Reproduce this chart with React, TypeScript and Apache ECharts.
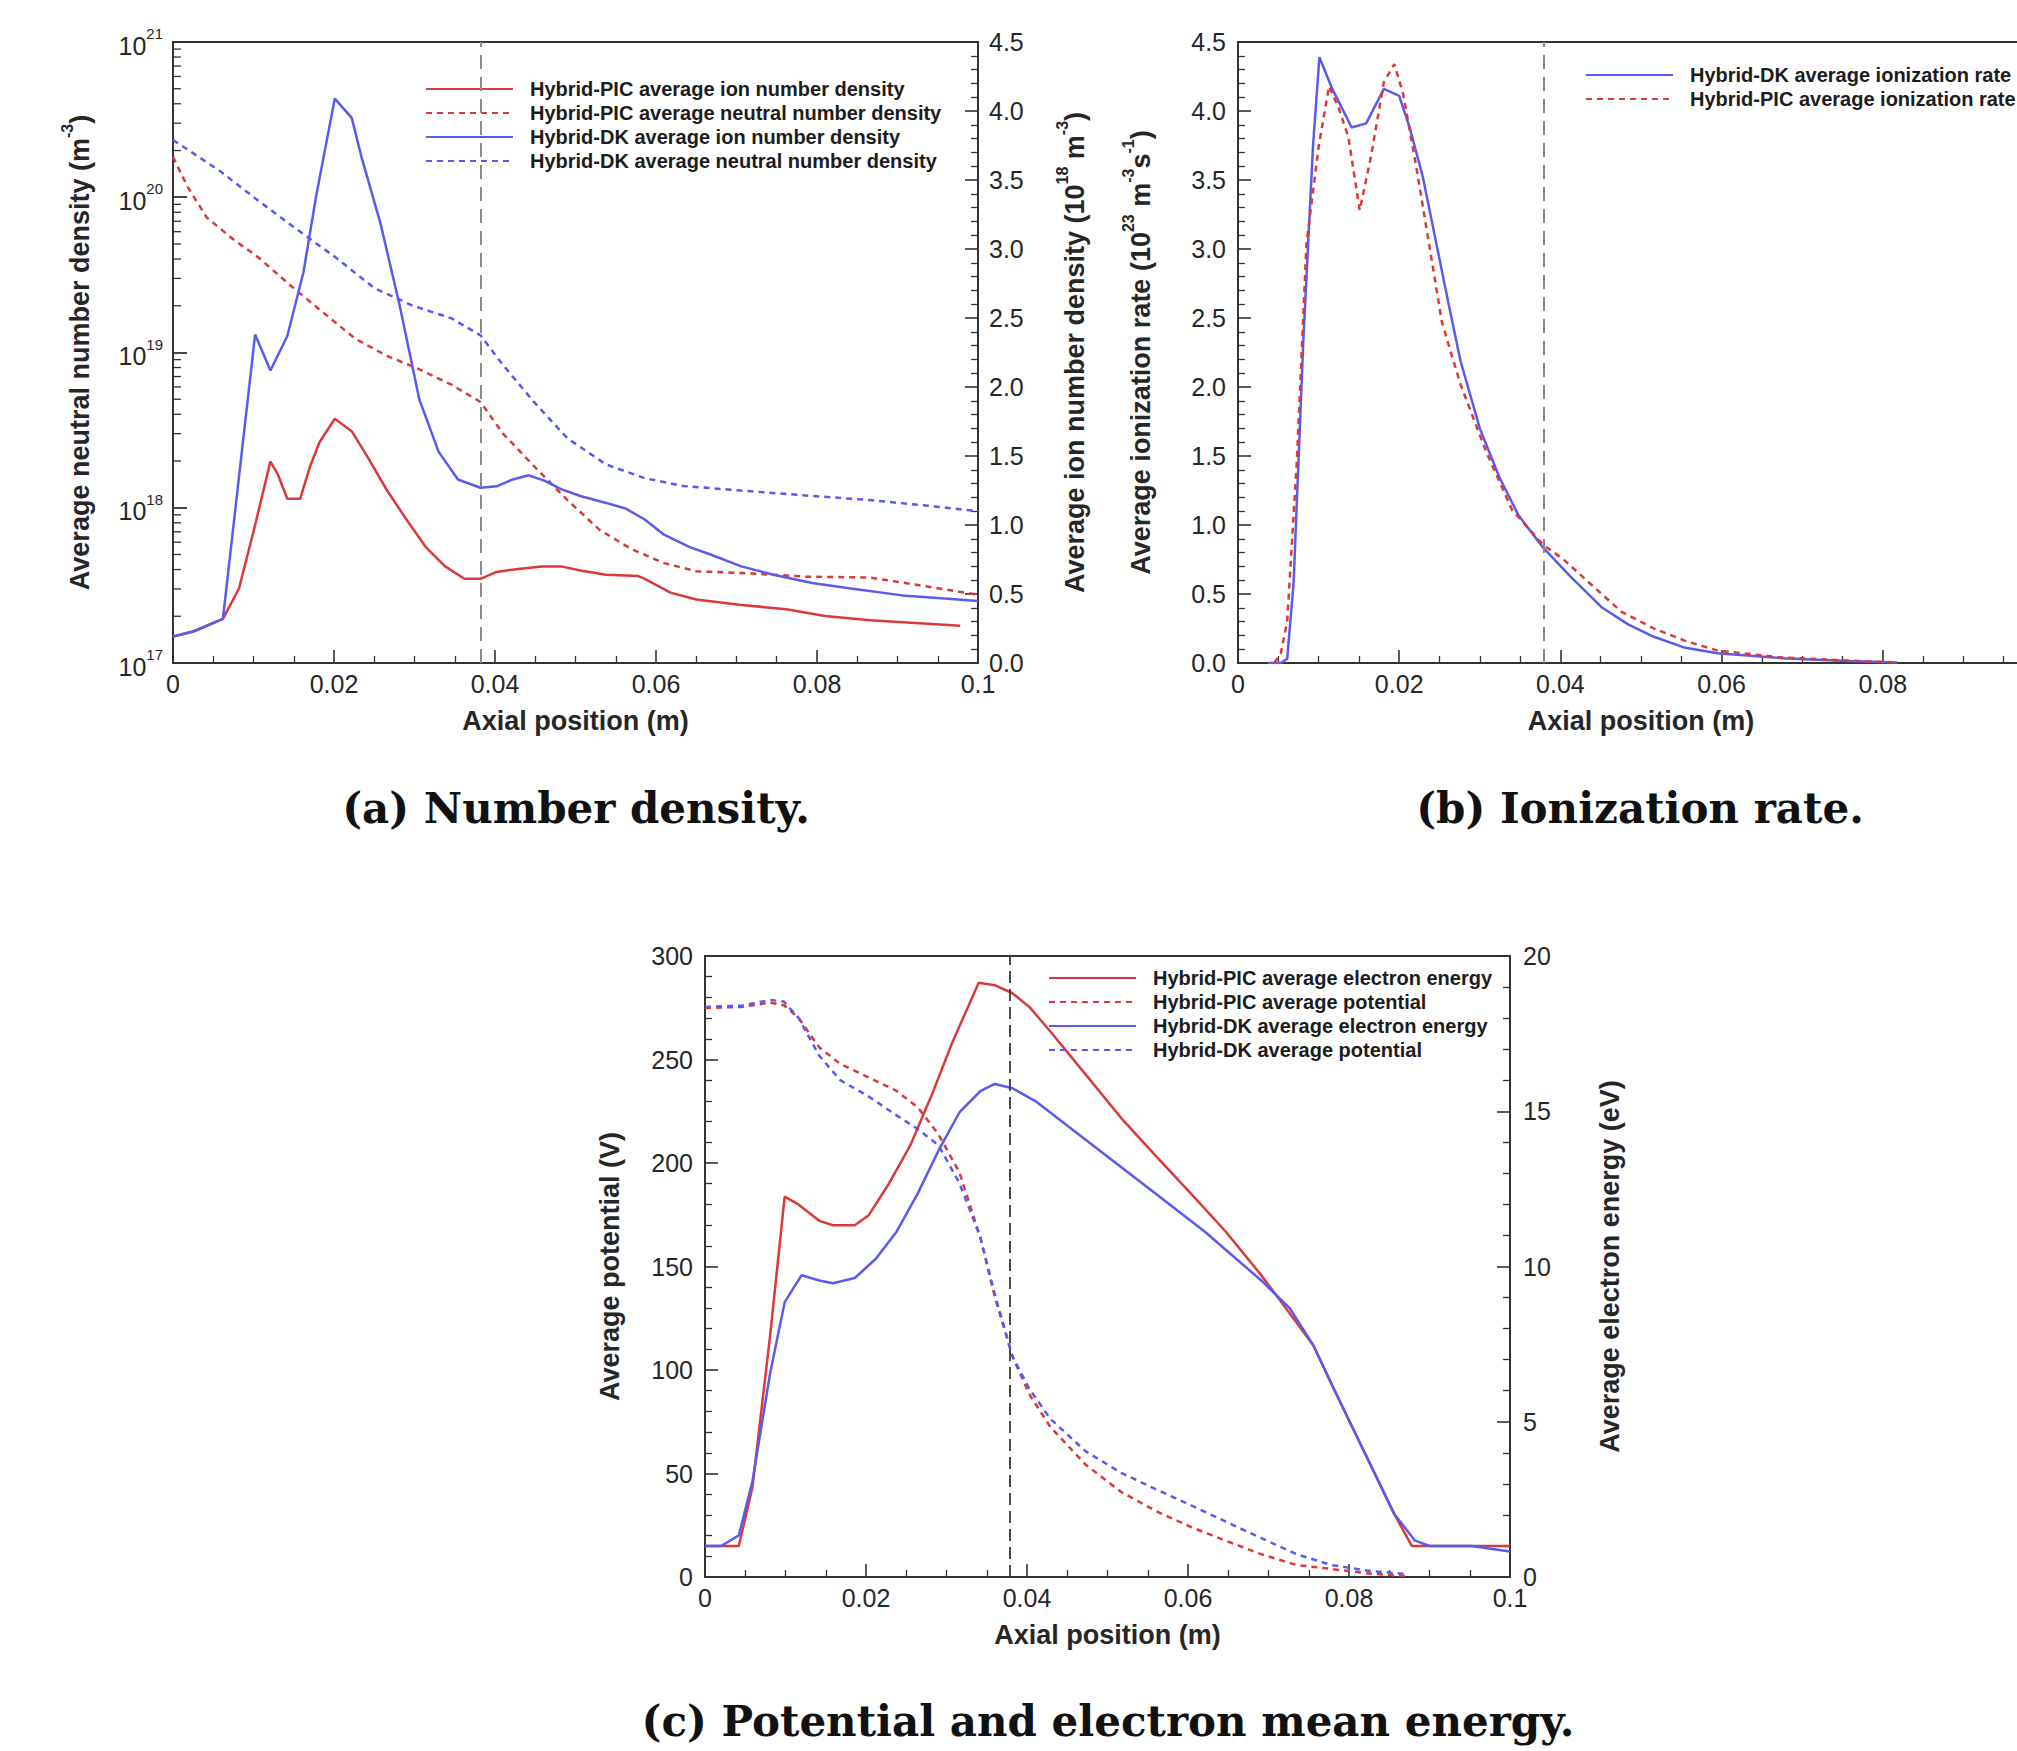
import React, { useEffect, useRef } from "react";
import * as echarts from "echarts";

// ---------- colours / fonts ----------
const RED = "#d83a3c";
const BLUE = "#5a5aee";
const AX = "#333333";
const TXT = "#262626";
const FONT = "'Liberation Sans', Arial, Helvetica, sans-serif";
const SERIF = "'DejaVu Serif', 'Liberation Serif', serif";

// ---------- (a) number density ----------
const aPicIonX = [0, 0.0026, 0.0062, 0.0082, 0.0102, 0.0121, 0.013, 0.0142, 0.0158, 0.017, 0.0182, 0.0201, 0.0222, 0.0242, 0.0266, 0.029, 0.0314, 0.0338, 0.0362, 0.0382, 0.0402, 0.0426, 0.0458, 0.0482, 0.0506, 0.0538, 0.0578, 0.0586, 0.0618, 0.065, 0.0706, 0.0762, 0.081, 0.0866, 0.0922, 0.0978];
const aPicIon = [0.19, 0.23, 0.32, 0.54, 1.0, 1.46, 1.37, 1.19, 1.19, 1.42, 1.6, 1.77, 1.68, 1.49, 1.25, 1.04, 0.84, 0.7, 0.61, 0.61, 0.66, 0.68, 0.7, 0.7, 0.67, 0.64, 0.63, 0.61, 0.51, 0.46, 0.42, 0.39, 0.34, 0.31, 0.29, 0.27];

const aPicNeuX = [0, 0.0018, 0.0042, 0.0074, 0.0106, 0.0146, 0.0186, 0.0226, 0.0266, 0.0306, 0.0346, 0.0382, 0.041, 0.045, 0.049, 0.053, 0.057, 0.061, 0.065, 0.0706, 0.0786, 0.0866, 0.0922, 0.1];
const aPicNeu = [1.82e20, 1.17e20, 7.4e19, 5.4e19, 4.1e19, 2.7e19, 1.82e19, 1.23e19, 9.5e18, 7.8e18, 6.2e18, 4.8e18, 3.0e18, 1.82e18, 1.12e18, 7.2e17, 5.4e17, 4.4e17, 3.9e17, 3.8e17, 3.6e17, 3.55e17, 3.2e17, 2.75e17];

const aDkIonX = [0, 0.0026, 0.0062, 0.0102, 0.0121, 0.0142, 0.0162, 0.0178, 0.0201, 0.0222, 0.0234, 0.0258, 0.0282, 0.0306, 0.033, 0.0354, 0.0382, 0.0402, 0.0422, 0.0442, 0.0462, 0.0482, 0.0506, 0.0538, 0.0562, 0.0586, 0.061, 0.0642, 0.0666, 0.0706, 0.0746, 0.0794, 0.0842, 0.0906, 0.0954, 0.1];
const aDkIon = [0.193, 0.23, 0.32, 2.38, 2.12, 2.37, 2.83, 3.39, 4.09, 3.95, 3.67, 3.18, 2.58, 1.91, 1.53, 1.33, 1.27, 1.28, 1.33, 1.36, 1.32, 1.26, 1.21, 1.16, 1.12, 1.04, 0.93, 0.84, 0.79, 0.7, 0.64, 0.58, 0.54, 0.49, 0.47, 0.45];

const aDkNeuX = [0, 0.0058, 0.0106, 0.0154, 0.0202, 0.025, 0.0298, 0.0346, 0.0382, 0.041, 0.045, 0.049, 0.0538, 0.0586, 0.0634, 0.0706, 0.0786, 0.0866, 0.0946, 0.1];
const aDkNeu = [2.34e20, 1.48e20, 9.5e19, 6.2e19, 4.1e19, 2.6e19, 2.0e19, 1.66e19, 1.29e19, 8.3e18, 4.7e18, 2.8e18, 1.9e18, 1.55e18, 1.38e18, 1.29e18, 1.2e18, 1.12e18, 1.02e18, 9.5e17];

const logDecades = [1e17, 1e18, 1e19, 1e20];
const logMultipliers = [2, 3, 4, 5, 6, 7, 8, 9];

// ---------- (b) ionization rate ----------
const bDkX = [0.0037, 0.0053, 0.0061, 0.0069, 0.0081, 0.0093, 0.0101, 0.0117, 0.0141, 0.0159, 0.0181, 0.02, 0.0213, 0.0229, 0.0245, 0.0261, 0.0276, 0.03, 0.0324, 0.0348, 0.0378, 0.0412, 0.0452, 0.0484, 0.0516, 0.0555, 0.0595, 0.0675, 0.0755, 0.0818];
const bDk = [0, 0, 0.03, 0.58, 2.33, 3.74, 4.39, 4.16, 3.88, 3.91, 4.16, 4.11, 3.88, 3.53, 3.07, 2.61, 2.19, 1.7, 1.35, 1.07, 0.84, 0.63, 0.4, 0.28, 0.19, 0.11, 0.07, 0.035, 0.014, 0.004];

const bPicX = [0.0045, 0.0053, 0.0061, 0.0073, 0.0085, 0.01, 0.0113, 0.0125, 0.0137, 0.0151, 0.0165, 0.0181, 0.0194, 0.0205, 0.0221, 0.0237, 0.0253, 0.0276, 0.0308, 0.034, 0.0378, 0.0404, 0.0436, 0.0476, 0.0516, 0.0555, 0.0595, 0.0675, 0.0755, 0.0818];
const bPic = [0, 0.07, 0.3, 1.46, 3.04, 3.74, 4.18, 4.02, 3.81, 3.28, 3.67, 4.21, 4.34, 4.12, 3.6, 3.04, 2.47, 2.02, 1.53, 1.11, 0.86, 0.75, 0.58, 0.37, 0.25, 0.16, 0.09, 0.04, 0.018, 0.004];

// ---------- (c) potential and electron energy ----------
const cPicEnX = [0, 0.0042, 0.0059, 0.0081, 0.0099, 0.0116, 0.0142, 0.0159, 0.0186, 0.0203, 0.0229, 0.0255, 0.0281, 0.0307, 0.034, 0.036, 0.0382, 0.0403, 0.0429, 0.0473, 0.0517, 0.056, 0.0604, 0.0647, 0.0691, 0.0726, 0.0756, 0.0778, 0.0804, 0.083, 0.0856, 0.0878, 0.09, 0.1];
const cPicEn = [1.0, 1.0, 2.9, 7.8, 12.25, 12.0, 11.47, 11.33, 11.33, 11.64, 12.69, 13.9, 15.48, 17.2, 19.14, 19.06, 18.8, 18.36, 17.57, 16.18, 14.78, 13.56, 12.34, 11.12, 9.72, 8.5, 7.45, 6.23, 4.83, 3.44, 2.04, 1.0, 1.0, 1.0];

const cDkEnX = [0, 0.002, 0.0042, 0.0059, 0.0081, 0.0099, 0.012, 0.0142, 0.0159, 0.0186, 0.0212, 0.0238, 0.0264, 0.029, 0.0316, 0.0342, 0.036, 0.0382, 0.0412, 0.0447, 0.0499, 0.056, 0.0621, 0.0691, 0.0726, 0.0756, 0.0778, 0.0804, 0.083, 0.0856, 0.0882, 0.09, 0.0952, 0.1];
const cDkEn = [1.0, 1.0, 1.34, 3.09, 6.58, 8.85, 9.72, 9.55, 9.46, 9.63, 10.24, 11.12, 12.34, 13.73, 14.96, 15.65, 15.88, 15.74, 15.3, 14.6, 13.56, 12.34, 11.12, 9.55, 8.67, 7.45, 6.23, 4.83, 3.44, 2.04, 1.17, 1.0, 1.0, 0.82];

const cPotX = [0, 0.0046, 0.0081, 0.0098, 0.0116, 0.0142, 0.0168, 0.0203, 0.0238, 0.0264, 0.029, 0.0316, 0.0342, 0.036, 0.0382, 0.0403, 0.0429, 0.0473, 0.0517, 0.056, 0.0604, 0.0647, 0.0691, 0.0735, 0.0778, 0.0822, 0.0874];
const cPicPot = [274.9, 275.4, 277.5, 276.2, 270.2, 255.8, 247.9, 241.4, 234.8, 227, 213.9, 195.5, 164.1, 135.3, 106.5, 88.2, 72.5, 54.2, 41.1, 31.9, 24.1, 17.5, 11, 5.8, 3.9, 1.8, 0.3];
const cDkPot = [275.4, 276, 278.8, 278, 270.2, 251.8, 240, 232.2, 223, 216.5, 208.6, 190.3, 164.1, 136.6, 106.5, 90.8, 76.4, 60.7, 50.3, 42.4, 34.6, 26.7, 18.8, 11, 5.8, 3.1, 1.3];

// reference (dashed) positions
const aRefX = 0.0382;
const bRefX = 0.0379;
const cRefX = 0.0379;

// ---------- names ----------
const N_A = [
  "Hybrid-PIC average ion number density",
  "Hybrid-PIC average neutral number density",
  "Hybrid-DK average ion number density",
  "Hybrid-DK average neutral number density",
];
const N_B = ["Hybrid-DK average ionization rate", "Hybrid-PIC average ionization rate"];
const N_C = [
  "Hybrid-PIC average electron energy",
  "Hybrid-PIC average potential",
  "Hybrid-DK average electron energy",
  "Hybrid-DK average potential",
];
const X_TICKS = { min: 0, max: 0.1, interval: 0.02 };

const zip = (xs: number[], ys: number[]) => xs.map((x, i) => [x, ys[i]]);

const DOT = [6, 5];

const nameRich = {
  t: { fontFamily: FONT, fontWeight: "bold", fontSize: 27, color: TXT, lineHeight: 34, verticalAlign: "bottom" },
  s: { fontFamily: FONT, fontWeight: "bold", fontSize: 16, color: TXT, lineHeight: 18, verticalAlign: "top" },
};

function axisBase(gridIndex: number, minorSplit: number) {
  return {
    gridIndex,
    axisLine: { show: true, onZero: false, lineStyle: { color: AX, width: 2 } },
    axisTick: { show: true, inside: true, length: 13, lineStyle: { color: AX, width: 1.6 } },
    minorTick: { show: minorSplit > 0, splitNumber: minorSplit || 5, length: 7, lineStyle: { color: AX, width: 1.3 } },
    splitLine: { show: false },
    minorSplitLine: { show: false },
    axisLabel: { color: TXT, fontFamily: FONT, fontSize: 25, margin: 10 },
  };
}

function xAxisFor(gridIndex: number, showMax = true) {
  const b = axisBase(gridIndex, 4);
  return {
    ...b,
    type: "value",
    ...X_TICKS,
    axisLabel: { ...b.axisLabel, margin: 8, showMaxLabel: showMax },
    name: "Axial position (m)",
    nameLocation: "middle",
    nameGap: 44,
    nameTextStyle: { fontFamily: FONT, fontWeight: "bold", fontSize: 27, color: TXT },
  };
}

function line(name: string, data: number[][], color: string, dotted: boolean, xi: number, yi: number, extra: any = {}) {
  return {
    type: "line",
    name,
    data,
    xAxisIndex: xi,
    yAxisIndex: yi,
    symbol: "none",
    showSymbol: false,
    smooth: false,
    clip: true,
    lineStyle: { color, width: 2.5, type: dotted ? DOT : "solid" },
    itemStyle: { color },
    ...extra,
  };
}

function vline(x: number, y0: number, y1: number, color: string, dash: number[], width: number) {
  return {
    markLine: {
      silent: true,
      precision: 6,
      symbol: ["none", "none"],
      label: { show: false },
      lineStyle: { color, type: dash, width },
      data: [[{ coord: [x, y0] }, { coord: [x, y1] }]],
    },
  };
}

const legendBase = {
  orient: "vertical",
  itemWidth: 87,
  itemHeight: 12,
  itemGap: 0,
  selectedMode: false,
  padding: 0,
  itemStyle: { opacity: 0, borderWidth: 0 },
  textStyle: { fontFamily: FONT, fontWeight: "bold", fontSize: 20, lineHeight: 24, color: "#1c1c1c", padding: [0, 0, 0, 12] },
};

const logMinor = logDecades.flatMap((d) => logMultipliers.map((m) => [0, m * d]));

const gridBase = { show: true, borderColor: AX, borderWidth: 2, backgroundColor: "transparent", outerBoundsMode: "none", containLabel: false };

const option: any = {
  animation: false,
  backgroundColor: "#ffffff",
  grid: [
    { ...gridBase, left: 173, top: 42, width: 805, height: 621 },
    { ...gridBase, left: 1238, top: 42, width: 806, height: 621 },
    { ...gridBase, left: 705, top: 956, width: 805, height: 621 },
  ],
  xAxis: [xAxisFor(0), xAxisFor(1, false), xAxisFor(2)],
  yAxis: [
    {
      ...axisBase(0, 0),
      type: "log",
      logBase: 10,
      min: 1e17,
      max: 1e21,
      splitNumber: 4,
      position: "left",
      axisTick: { show: true, inside: true, length: 14, lineStyle: { color: AX, width: 1.8 } },
      axisLabel: {
        margin: 10,
        formatter: (v: number) => `{b|10}{s|${Math.round(Math.log10(v))}}`,
        rich: {
          b: { fontFamily: FONT, fontSize: 25, color: TXT, lineHeight: 32, verticalAlign: "bottom" },
          s: { fontFamily: FONT, fontSize: 15, color: TXT, lineHeight: 16, verticalAlign: "top" },
        },
      },
      name: "{t|Average neutral number density (m}{s|-3}{t|)}",
      nameLocation: "middle",
      nameRotate: 90,
      nameGap: 80,
      nameTextStyle: { rich: nameRich },
    },
    {
      ...axisBase(0, 5),
      type: "value",
      min: 0,
      max: 4.5,
      interval: 0.5,
      position: "right",
      axisLabel: { color: TXT, fontFamily: FONT, fontSize: 25, margin: 11, formatter: (v: number) => v.toFixed(1) },
      name: "{t|Average ion number density (10}{s|18}{t| m}{s|-3}{t|)}",
      nameLocation: "middle",
      nameRotate: 90,
      nameGap: 76,
      nameTextStyle: { rich: nameRich },
    },
    {
      ...axisBase(1, 5),
      type: "value",
      min: 0,
      max: 4.5,
      interval: 0.5,
      position: "left",
      axisLabel: { color: TXT, fontFamily: FONT, fontSize: 25, margin: 12, formatter: (v: number) => v.toFixed(1) },
      name: "{t|Average ionization rate (10}{s|23}{t| m}{s|-3}{t|s}{s|-1}{t|)}",
      nameLocation: "middle",
      nameRotate: 90,
      nameGap: 84,
      nameTextStyle: { rich: nameRich },
    },
    {
      ...axisBase(2, 5),
      type: "value",
      min: 0,
      max: 300,
      interval: 50,
      position: "left",
      axisLabel: { color: TXT, fontFamily: FONT, fontSize: 25, margin: 12 },
      name: "Average potential (V)",
      nameLocation: "middle",
      nameRotate: 90,
      nameGap: 82,
      nameTextStyle: { fontFamily: FONT, fontWeight: "bold", fontSize: 27, color: TXT },
    },
    {
      ...axisBase(2, 5),
      type: "value",
      min: 0,
      max: 20,
      interval: 5,
      position: "right",
      axisLabel: { color: TXT, fontFamily: FONT, fontSize: 25, margin: 13 },
      name: "Average electron energy (eV)",
      nameLocation: "middle",
      nameRotate: 90,
      nameGap: 86,
      nameTextStyle: { fontFamily: FONT, fontWeight: "bold", fontSize: 27, color: TXT },
    },
  ],
  legend: [
    { ...legendBase, data: N_A, left: 425, top: 77 },
    { ...legendBase, data: N_B, left: 1585, top: 63 },
    { ...legendBase, data: N_C, left: 1048, top: 966 },
  ],
  series: [
    // (a)
    line(N_A[0], zip(aPicIonX, aPicIon), RED, false, 0, 1),
    line(N_A[1], zip(aPicNeuX, aPicNeu), RED, true, 0, 0),
    line(N_A[2], zip(aDkIonX, aDkIon), BLUE, false, 0, 1, vline(aRefX, 0, 4.5, "#8a8a8a", [14, 8], 2)),
    line(N_A[3], zip(aDkNeuX, aDkNeu), BLUE, true, 0, 0),
    {
      type: "custom",
      name: "log-minor-ticks",
      xAxisIndex: 0,
      yAxisIndex: 0,
      silent: true,
      clip: false,
      data: logMinor,
      renderItem: (_p: any, api: any) => {
        const p = api.coord([0, api.value(1)]);
        return {
          type: "line",
          shape: { x1: p[0], y1: p[1], x2: p[0] + 8, y2: p[1] },
          style: { stroke: AX, lineWidth: 1.3 },
        };
      },
    },
    // (b)
    line(N_B[0], zip(bDkX, bDk), BLUE, false, 1, 2, vline(bRefX, 0, 4.5, "#8a8a8a", [14, 8], 2)),
    line(N_B[1], zip(bPicX, bPic), RED, true, 1, 2),
    // (c)
    line(N_C[0], zip(cPicEnX, cPicEn), RED, false, 2, 4, vline(cRefX, 0, 20, "#3a3a3a", [12, 6], 1.8)),
    line(N_C[1], zip(cPotX, cPicPot), RED, true, 2, 3),
    line(N_C[2], zip(cDkEnX, cDkEn), BLUE, false, 2, 4),
    line(N_C[3], zip(cPotX, cDkPot), BLUE, true, 2, 3),
  ],
  graphic: [
    {
      type: "text",
      x: 576,
      y: 808,
      style: { text: "(a) Number density.", font: `bold 42px ${SERIF}`, fill: "#111", textAlign: "center", textVerticalAlign: "middle" },
    },
    {
      type: "text",
      x: 1640,
      y: 808,
      style: { text: "(b) Ionization rate.", font: `bold 42px ${SERIF}`, fill: "#111", textAlign: "center", textVerticalAlign: "middle" },
    },
    {
      type: "text",
      x: 1108,
      y: 1721,
      style: { text: "(c) Potential and electron mean energy.", font: `bold 42px ${SERIF}`, fill: "#111", textAlign: "center", textVerticalAlign: "middle" },
    },
  ],
};

export default function App() {
  const ref = useRef<HTMLDivElement>(null);
  useEffect(() => {
    const chart = echarts.init(ref.current as HTMLDivElement, null, { renderer: "svg" });
    chart.setOption(option);
    return () => chart.dispose();
  }, []);
  return (
    <div
      ref={ref}
      style={{ position: "absolute", left: 0, top: 0, width: 2017, height: 1751, background: "#ffffff", overflow: "hidden" }}
    />
  );
}
